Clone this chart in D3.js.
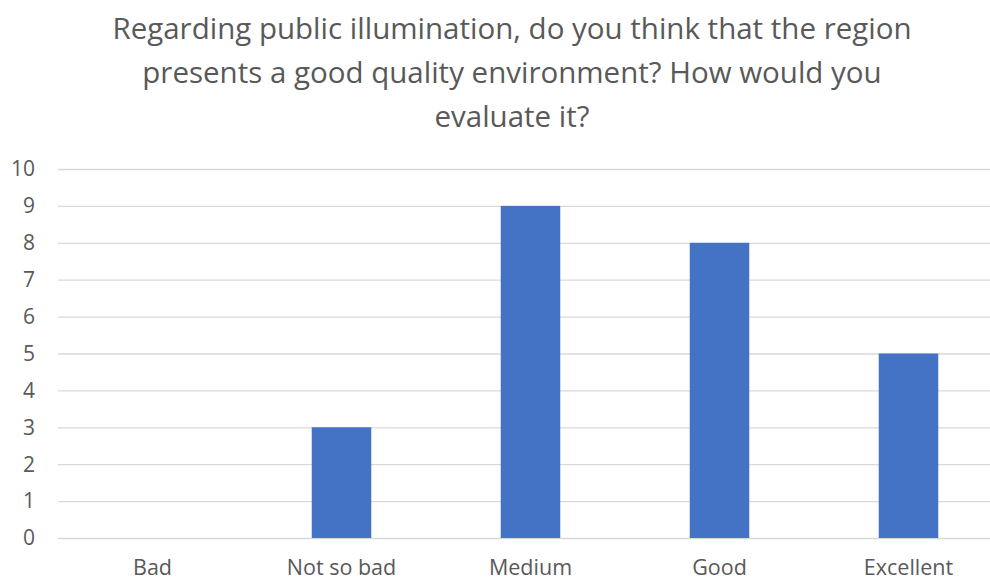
<!DOCTYPE html>
<html><head><meta charset="utf-8">
<script src="https://cdn.jsdelivr.net/npm/d3@7"></script>
<style>body{margin:0;background:#fff}svg{display:block}</style>
</head><body>
<script>
const categories = ["Bad","Not so bad","Medium","Good","Excellent"];
const values = [0,3,9,8,5];
const yTicks = [0,1,2,3,4,5,6,7,8,9,10];
const titleLines = ["Regarding public illumination, do you think that the region","presents a good quality environment? How would you","evaluate it?"];

const W=990,H=580;
const svg=d3.select("body").append("svg").attr("width",W).attr("height",H);
const font="'Open Sans', sans-serif";
const x=d3.scaleBand().domain(categories).range([58,1003]).paddingInner(0.685).paddingOuter(0.3425);
const y=d3.scaleLinear().domain([0,10]).range([538,169]);

svg.append("g").selectAll("line").data(yTicks).join("line")
 .attr("x1",58).attr("x2",1003).attr("y1",d=>y(d)+0.5).attr("y2",d=>y(d)+0.5)
 .attr("stroke","#d9d9d9").attr("stroke-width",1.3);

svg.append("g").selectAll("text").data(yTicks).join("text")
 .attr("x",35).attr("y",d=>y(d)).attr("dy","0.35em").attr("text-anchor","end")
 .attr("font-family",font).attr("font-size",21).attr("fill","#595959").text(d=>d);

svg.append("g").selectAll("rect").data(values).join("rect")
 .attr("x",(d,i)=>x(categories[i])).attr("width",x.bandwidth())
 .attr("y",d=>y(d)).attr("height",d=>y(0)-y(d)).attr("fill","#4472C4");

svg.append("g").selectAll("text").data(categories).join("text")
 .attr("x",d=>x(d)+x.bandwidth()/2).attr("y",575).attr("text-anchor","middle")
 .attr("font-family",font).attr("font-size",21.5).attr("fill","#595959").text(d=>d);

svg.append("g").selectAll("text").data(titleLines).join("text")
 .attr("x",512).attr("y",(d,i)=>39+i*44).attr("text-anchor","middle")
 .attr("font-family",font).attr("font-size",29.5).attr("fill","#595959").text(d=>d);
</script>
</body></html>
